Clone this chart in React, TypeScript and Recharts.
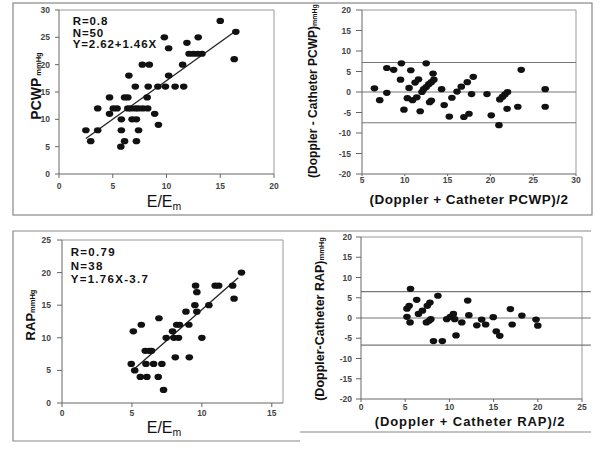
import React from 'react';
import { ScatterChart, Scatter, XAxis, YAxis, ReferenceLine } from 'recharts';

// ---------- Panel A: PCWP vs E/Em ----------
const pcwpEEm = [3.6, 5.05, 5.4, 6.4, 6.7, 7.1, 7.4, 7.8, 8.25, 5.8, 6.8, 7.2, 4.7, 8.9, 2.5, 3.6, 5.8, 7.4, 2.95, 6.1, 7.2, 5.75, 6.5, 10.2, 9.25, 7.75, 8.4, 11.5, 7.1, 8.3, 9.2, 9.9, 10.8, 11.6, 4.7, 6.1, 6.4, 8.2, 9.8, 12.95, 10.2, 11.9, 12.1, 12.5, 12.9, 13.3, 15.0, 16.45, 16.3];
const pcwpMmHg = [12, 12, 12, 12, 12, 12, 12, 12, 12, 10, 10, 10, 11, 11, 8, 8, 8, 8, 6, 6, 6, 5, 18, 18, 9, 20, 20, 20, 16, 16, 16, 16, 16, 16, 14, 14, 14, 14, 25, 25, 23, 24, 22, 22, 22, 22, 28, 26, 21];
const pcwpFitX = [2.5, 16.4];
const pcwpFitY = [6.5, 26.1];
const pcwpStats = ['R=0.8', 'N=50', 'Y=2.62+1.46X'];

// ---------- Panel B: Bland-Altman PCWP ----------
const baPcwpMean = [6.45, 7.07, 7.9, 7.9, 8.7, 9.6, 9.5, 9.9, 10.7, 10.5, 10.3, 10.9, 11.2, 11.6, 11.4, 11.8, 12.5, 12.0, 12.2, 12.5, 12.8, 13.1, 13.4, 13.3, 12.9, 13.1, 14.3, 14.6, 15.2, 15.5, 16.1, 16.6, 17.3, 18.0, 17.8, 16.9, 17.5, 19.6, 20.1, 21.0, 21.1, 21.4, 21.7, 22.0, 21.95, 23.2, 23.6, 26.4, 26.4];
const baPcwpDiff = [0.9, -2.0, -0.2, 5.85, 5.4, 7.0, 3.0, -4.3, 5.3, 1.0, -1.5, -2.0, 2.3, 3.1, -1.3, -4.7, 7.0, 0, 0.7, 1.2, 1.9, 2.4, 3.0, 4.5, -2.5, -2.1, 0.7, -3.2, -6.0, -1.4, 0.1, 1.3, 2.4, 3.7, -0.5, -6.1, -5.3, -0.5, -5.7, -8.1, -1.8, -1.2, -0.6, 0, -4.1, -3.6, 5.4, 0.7, -3.6];
const baPcwpLimits = [7.2, 0, -7.5];

// ---------- Panel C: RAP vs E/Em ----------
const rapEEm = [4.95, 5.1, 5.2, 5.67, 5.6, 5.95, 6.0, 6.07, 6.24, 6.4, 6.55, 6.93, 6.88, 7.14, 7.26, 7.45, 7.9, 8.0, 8.1, 8.2, 8.4, 8.33, 8.86, 9.07, 9.1, 9.55, 9.5, 9.64, 9.64, 10.0, 10.5, 10.95, 11.2, 12.2, 12.3, 12.83];
const rapMmHg = [6, 11, 5, 12, 4, 8, 6, 4, 8, 8, 6, 13, 4, 6, 2, 10, 11, 10, 7, 12, 12, 10, 14, 12, 7, 18, 15, 17, 14, 10, 15, 18, 18, 18, 16, 20];
const rapFitX = [5.1, 12.6];
const rapFitY = [5.1, 19.2];
const rapStats = ['R=0.79', 'N=38', 'Y=1.76X-3.7'];

// ---------- Panel D: Bland-Altman RAP ----------
const baRapMean = [5.2, 5.45, 5.2, 5.6, 5.55, 6.3, 6.5, 6.95, 7.5, 7.4, 7.7, 7.9, 7.8, 8.7, 8.2, 9.2, 9.7, 10.1, 10.45, 10.6, 10.75, 11.4, 12.07, 12.2, 13.1, 13.65, 14.1, 14.96, 15.3, 15.7, 16.9, 17.1, 18.2, 19.8, 20.0];
const baRapDiff = [2.3, 3.0, 0.3, 7.2, -1.1, 4.5, 1.0, 1.8, 3.0, -1.1, -0.7, -0.3, 3.8, 5.5, -5.7, -5.7, -0.3, 0.3, 1.0, -0.3, -4.3, -1.1, 4.3, 0.7, -1.8, -0.4, -1.6, 0.2, -3.3, -4.4, 2.2, -1.6, 0.6, -0.4, -1.9];
const baRapLimits = [6.5, 0, -6.7];

const zip = (xs: number[], ys: number[]) => xs.map((x, i) => ({ x, y: ys[i] }));

const FONT = '"Liberation Sans", Arial, sans-serif';
const tickStyle = { fontSize: 8.5, fontWeight: 700, fill: '#444', fontFamily: FONT };
const axisStroke = { stroke: '#666' };

const Dot = (p: any) => <ellipse cx={p.cx} cy={p.cy} rx={3.8} ry={3.1} fill="#111" />;

export default function App() {
  return (
    <div style={{ position: 'absolute', left: 0, top: 0, width: 600, height: 450, background: '#fff' }}>
      {/* Panel A */}
      <div style={{ position: 'absolute', left: 0, top: 0 }}>
        <ScatterChart width={300} height={215} margin={{ top: 10, right: 26, bottom: 21, left: 29 }}>
          <XAxis type="number" dataKey="x" domain={[0, 20]} ticks={[0, 5, 10, 15, 20]} height={20}
            tick={tickStyle} axisLine={axisStroke} tickLine={axisStroke} tickSize={4} tickMargin={5} />
          <YAxis type="number" dataKey="y" domain={[0, 30]} ticks={[0, 5, 10, 15, 20, 25, 30]} width={30}
            tick={tickStyle} axisLine={axisStroke} tickLine={axisStroke} tickSize={4} tickMargin={5} />
          <ReferenceLine y={30} stroke="#999" />
          <ReferenceLine x={20} stroke="#999" />
          <ReferenceLine segment={[{ x: pcwpFitX[0], y: pcwpFitY[0] }, { x: pcwpFitX[1], y: pcwpFitY[1] }]} stroke="#222" strokeWidth={1.3} />
          <Scatter data={zip(pcwpEEm, pcwpMmHg)} shape={Dot} isAnimationActive={false} />
        </ScatterChart>
      </div>

      {/* Panel B */}
      <div style={{ position: 'absolute', left: 300, top: 0 }}>
        <ScatterChart width={300} height={215} margin={{ top: 10, right: 24, bottom: 21, left: 22 }}>
          <XAxis type="number" dataKey="x" domain={[5, 30]} ticks={[5, 10, 15, 20, 25, 30]} height={20}
            tick={tickStyle} axisLine={axisStroke} tickLine={axisStroke} tickSize={2} tickMargin={1} />
          <YAxis type="number" dataKey="y" domain={[-20, 20]} ticks={[-20, -15, -10, -5, 0, 5, 10, 15, 20]} width={40}
            tick={tickStyle} axisLine={axisStroke} tickLine={axisStroke} tickSize={6} tickMargin={5} />
          <ReferenceLine y={20} stroke="#999" />
          <ReferenceLine x={30} stroke="#999" />
          {baPcwpLimits.map((v, i) => (
            <ReferenceLine key={i} y={v} stroke="#777" strokeWidth={1.2} />
          ))}
          <Scatter data={zip(baPcwpMean, baPcwpDiff)} shape={Dot} isAnimationActive={false} />
        </ScatterChart>
      </div>

      {/* Panel C */}
      <div style={{ position: 'absolute', left: 0, top: 225 }}>
        <ScatterChart width={300} height={225} margin={{ top: 15, right: 17, bottom: 27, left: 32 }}>
          <XAxis type="number" dataKey="x" domain={[0, 15.8]} ticks={[0, 5, 10, 15]} height={20}
            tick={tickStyle} axisLine={axisStroke} tickLine={axisStroke} tickSize={4} tickMargin={3} />
          <YAxis type="number" dataKey="y" domain={[0, 25]} ticks={[0, 5, 10, 15, 20, 25]} width={30}
            tick={tickStyle} axisLine={axisStroke} tickLine={axisStroke} tickSize={5} tickMargin={6} />
          <ReferenceLine y={25} stroke="#999" />
          <ReferenceLine x={15.8} stroke="#999" />
          <ReferenceLine segment={[{ x: rapFitX[0], y: rapFitY[0] }, { x: rapFitX[1], y: rapFitY[1] }]} stroke="#222" strokeWidth={1.3} />
          <Scatter data={zip(rapEEm, rapMmHg)} shape={Dot} isAnimationActive={false} />
        </ScatterChart>
      </div>

      {/* Panel D */}
      <div style={{ position: 'absolute', left: 300, top: 225 }}>
        <ScatterChart width={300} height={225} margin={{ top: 12, right: 18, bottom: 31, left: 21 }}>
          <XAxis type="number" dataKey="x" domain={[0, 25]} ticks={[0, 5, 10, 15, 20, 25]} height={20}
            tick={tickStyle} axisLine={axisStroke} tickLine={axisStroke} tickSize={3} tickMargin={2} />
          <YAxis type="number" dataKey="y" domain={[-20, 20]} ticks={[-20, -15, -10, -5, 0, 5, 10, 15, 20]} width={40}
            tick={tickStyle} axisLine={axisStroke} tickLine={axisStroke} tickSize={5} tickMargin={4} />
          <ReferenceLine y={20} stroke="#999" />
          <ReferenceLine x={25} stroke="#999" />
          {baRapLimits.map((v, i) => (
            <ReferenceLine key={i} segment={[{ x: 0, y: v }, { x: 26, y: v }]} ifOverflow="visible" stroke="#777" strokeWidth={1.2} />
          ))}
          <Scatter data={zip(baRapMean, baRapDiff)} shape={Dot} isAnimationActive={false} />
        </ScatterChart>
      </div>

      {/* Frames and titles */}
      <svg width={600} height={450} style={{ position: 'absolute', left: 0, top: 0, pointerEvents: 'none' }}>
        <g fill="none" stroke="#888" strokeWidth={1.2}>
          <rect x={13} y={3} width={579} height={212} />
          <polyline points="591,231 13,231 13,441 300,441" />
          <line x1={300} y1={432} x2={591} y2={432} />
        </g>
        <g fontFamily={FONT} fill="#111">
          {/* Panel A */}
          <g fontWeight={700} fontSize={11.5} letterSpacing={0.9}>
            {pcwpStats.map((s, i) => (
              <text key={i} x={72.7} y={25 + i * 11.7}>{s}</text>
            ))}
          </g>
          <text transform="translate(41,86) rotate(-90)" textAnchor="middle" fontWeight={700} fontSize={14}>
            PCWP<tspan fontSize={7.5}> mmHg</tspan>
          </text>
          <text x={164} y={207} textAnchor="middle" fontSize={16}>
            E/E<tspan fontSize={10.5} dy={3}>m</tspan>
          </text>
          {/* Panel B */}
          <text x={469} y={204} textAnchor="middle" fontWeight={700} fontSize={13.5} letterSpacing={0.5}>
            (Doppler + Catheter PCWP)/2
          </text>
          <text transform="translate(316.5,91) rotate(-90)" textAnchor="middle" fontWeight={700} fontSize={12}>
            (Doppler - Catheter PCWP)<tspan fontSize={7}>mmHg</tspan>
          </text>
          {/* Panel C */}
          <g fontWeight={700} fontSize={11.5} letterSpacing={1.3}>
            {rapStats.map((s, i) => (
              <text key={i} x={70.7} y={255.7 + i * 13.8}>{s}</text>
            ))}
          </g>
          <text transform="translate(35,315) rotate(-90)" textAnchor="middle" fontWeight={700} fontSize={13}>
            RAP<tspan fontSize={7.5}>mmHg</tspan>
          </text>
          <text x={164} y={433} textAnchor="middle" fontSize={16}>
            E/E<tspan fontSize={10.5} dy={3}>m</tspan>
          </text>
          {/* Panel D */}
          <text x={470} y={426} textAnchor="middle" fontWeight={700} fontSize={13} letterSpacing={0.9}>
            (Doppler + Catheter RAP)/2
          </text>
          <text transform="translate(324,319) rotate(-90)" textAnchor="middle" fontWeight={700} fontSize={12.5}>
            (Doppler-Catheter RAP)<tspan fontSize={7.5}>mmHg</tspan>
          </text>
        </g>
      </svg>
    </div>
  );
}
